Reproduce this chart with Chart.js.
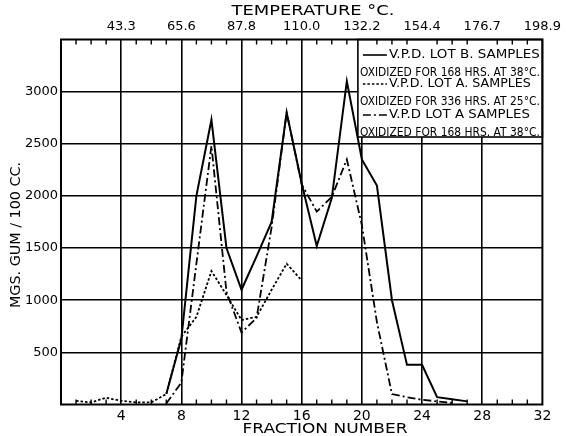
<!DOCTYPE html>
<html><head><meta charset="utf-8">
<script src="https://cdn.jsdelivr.net/npm/chart.js@4"></script>
<style>html,body{margin:0;padding:0;background:#fff}canvas{display:block}</style>
</head><body>
<canvas id="c" width="566" height="436"></canvas>
<script>
// ---- data ----
const fractionsLotB = [7,8,9,10,11,12,13,14,15,16,17,18,19,20,21,22,23,24,25,26,27];
const gumLotB       = [100,630,2000,2730,1500,1100,1420,1750,2800,2120,1520,1980,3100,2350,2100,1000,380,380,70,50,30];

const fractionsLotA336 = [1,2,3,4,5,6,7,8,9,10,11,12,13,14,15,16];
const gumLotA336       = [35,20,65,35,20,20,100,650,840,1280,1050,810,840,1100,1350,1190];

const fractionsLotA168 = [7,8,9,10,11,12,13,14,15,16,17,18,19,20,21,22,23,24,25,26];
const gumLotA168       = [10,210,1350,2480,1080,690,830,1700,2800,2110,1850,1990,2350,1720,790,100,70,45,30,15];

const fractionTickLabels = [4,8,12,16,20,24,28,32];
const temperatureLabels  = ['43.3','65.6','87.8','110.0','132.2','154.4','176.7','198.9'];
const gumTickLabels      = [500,1000,1500,2000,2500,3000];

const legendEntries = [
  ['V.P.D. LOT B. SAMPLES', 'OXIDIZED FOR 168 HRS. AT 38°C.'],
  ['V.P.D. LOT A. SAMPLES', 'OXIDIZED FOR 336 HRS. AT 25°C.'],
  ['V.P.D LOT A SAMPLES',   'OXIDIZED FOR 168 HRS. AT 38°C.']
];

const FONT = '"DejaVu Sans", "Liberation Sans", sans-serif';
const pts = (xs, ys) => xs.map((x, i) => ({x: x, y: ys[i]}));

const DASH_DOTTED = [2.5, 2];
const DASH_DOTDASH = [8, 3, 2, 3];

function fitText(ctx, text, x, y, width, size, align) {
  ctx.save();
  ctx.font = size + 'px ' + FONT;
  const w = ctx.measureText(text).width;
  ctx.translate(x, y);
  ctx.scale(width / w, 1);
  ctx.textBaseline = 'middle';
  ctx.textAlign = 'left';
  ctx.fillText(text, align === 'center' ? -w / 2 : 0, 0);
  ctx.restore();
}

const decorPlugin = {
  id: 'decor',
  afterDatasetsDraw(chart) {
    const {ctx, chartArea: a} = chart;
    ctx.save();
    ctx.fillStyle = '#000';
    ctx.strokeStyle = '#000';
    // legend box
    const bx = a.right - 184.5, by = a.top, bw = 184.5, bh = 97.5;
    ctx.fillStyle = '#fff';
    ctx.fillRect(bx, by, bw, bh);
    ctx.lineWidth = 1.6;
    ctx.strokeRect(bx, by, bw, bh);
    ctx.fillStyle = '#000';
    const rows = [15.5, 44.5, 75.5];
    const dashes = [[], DASH_DOTTED, DASH_DOTDASH];
    const firstW = [151, 142, 141];
    rows.forEach((ry, i) => {
      const y = by + ry;
      ctx.save();
      ctx.lineWidth = 1.6;
      ctx.setLineDash(dashes[i]);
      ctx.beginPath();
      ctx.moveTo(bx + 5, y);
      ctx.lineTo(bx + 29, y);
      ctx.stroke();
      ctx.restore();
      fitText(ctx, legendEntries[i][0], bx + 31, y, firstW[i], 12.5, 'left');
      fitText(ctx, legendEntries[i][1], bx + 2, y + 17.5, 180, 12.5, 'left');
    });
    ctx.restore();
  },
  afterDraw(chart) {
    const {ctx, chartArea: a, scales} = chart;
    ctx.save();
    ctx.strokeStyle = '#000';
    ctx.fillStyle = '#000';
    // minor ticks inside the frame
    ctx.lineWidth = 1.4;
    ctx.beginPath();
    for (let f = 1; f < 32; f++) {
      if (f % 4 === 0) continue;
      const px = scales.x.getPixelForValue(f);
      ctx.moveTo(px, a.bottom); ctx.lineTo(px, a.bottom - 5);
      ctx.moveTo(px, a.top); ctx.lineTo(px, a.top + 5);
    }
    ctx.stroke();
    // frame
    ctx.lineWidth = 2;
    ctx.strokeRect(a.left, a.top, a.right - a.left, a.bottom - a.top);
    // axis titles
    fitText(ctx, 'FRACTION NUMBER', 325, a.bottom + 24.5, 165, 14, 'center');
    fitText(ctx, 'TEMPERATURE °C.', 313, 11, 163, 14, 'center');
    ctx.save();
    ctx.translate(16, 235);
    ctx.rotate(-Math.PI / 2);
    fitText(ctx, 'MGS. GUM / 100 CC.', 0, 0, 146, 14, 'center');
    ctx.restore();
    ctx.restore();
  }
};

Chart.defaults.font.family = FONT;
Chart.defaults.color = '#000';

new Chart(document.getElementById('c'), {
  type: 'line',
  data: {
    datasets: [
      {label: legendEntries[0].join(' '), data: pts(fractionsLotB, gumLotB),
       borderColor: '#000', borderWidth: 2, pointRadius: 0, tension: 0, fill: false},
      {label: legendEntries[1].join(' '), data: pts(fractionsLotA336, gumLotA336),
       borderColor: '#000', borderWidth: 1.8, borderDash: DASH_DOTTED, pointRadius: 0, tension: 0, fill: false},
      {label: legendEntries[2].join(' '), data: pts(fractionsLotA168, gumLotA168),
       borderColor: '#000', borderWidth: 1.8, borderDash: DASH_DOTDASH, pointRadius: 0, tension: 0, fill: false}
    ]
  },
  options: {
    responsive: false,
    animation: false,
    layout: {padding: {left: 0, right: 18, top: 0, bottom: 0}},
    plugins: {legend: {display: false}, tooltip: {enabled: false}},
    scales: {
      x: {
        type: 'linear', position: 'bottom', min: 0, max: 32,
        afterFit(s) { s.height = 31.5; },
        border: {display: false},
        grid: {
          drawTicks: false, lineWidth: 1.6,
          color: c => (c.tick && c.tick.value % 4 === 0 && c.tick.value > 0 && c.tick.value < 32) ? '#000' : 'rgba(0,0,0,0)'
        },
        ticks: {
          stepSize: 1, autoSkip: false, maxRotation: 0, padding: 3,
          font: {size: 14},
          callback: v => fractionTickLabels.includes(v) ? String(v) : ''
        }
      },
      x2: {
        type: 'linear', position: 'top', min: 0, max: 32,
        afterFit(s) { s.height = 39.5; },
        border: {display: false},
        grid: {display: false, drawTicks: false},
        ticks: {
          stepSize: 4, autoSkip: false, maxRotation: 0, padding: 5,
          font: {size: 13},
          callback: v => fractionTickLabels.includes(v) ? temperatureLabels[fractionTickLabels.indexOf(v)] : ''
        }
      },
      y: {
        type: 'linear', min: 0, max: 3500,
        afterFit(s) { s.width = 61; },
        border: {display: false},
        grid: {
          drawTicks: false, lineWidth: 1.6,
          color: c => (c.tick && gumTickLabels.includes(c.tick.value)) ? '#000' : 'rgba(0,0,0,0)'
        },
        ticks: {
          stepSize: 500, padding: 3,
          font: {size: 13},
          callback: v => gumTickLabels.includes(v) ? String(v) : ''
        }
      }
    }
  },
  plugins: [decorPlugin]
});
</script>
</body></html>
